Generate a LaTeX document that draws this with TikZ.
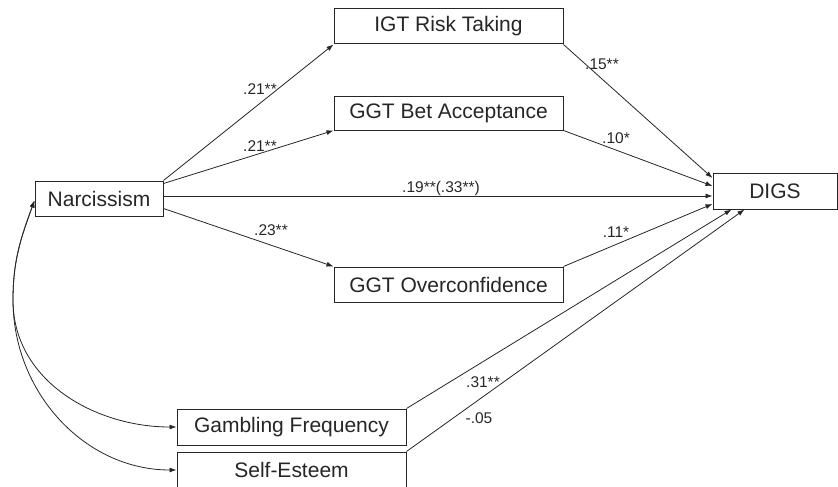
\documentclass[tikz,border=0pt]{standalone}
\usepackage{fontspec}
\setmainfont{Liberation Sans}
\usetikzlibrary{arrows.meta}
\tikzset{
  varbox/.style={draw, line width=1pt, minimum width=229pt, minimum height=35pt, inner sep=0pt, font=\fontsize{21}{25}\selectfont},
  coef/.style={anchor=base, inner sep=0pt, font=\fontsize{15.5}{18}\selectfont},
  link/.style={line width=0.8pt, -{Latex[length=7pt,width=5pt]}},
  corr/.style={line width=0.8pt, {Latex[length=7pt,width=5pt]}-{Latex[length=7pt,width=5pt]}}
}
\begin{document}
\begin{tikzpicture}[x=1pt, y=-1pt, color=black!85]
    \useasboundingbox (0,0) rectangle (838,487);

    % Variables
    \node[varbox, minimum width=128pt] (narc) at (99,198.5) {Narcissism};
    \node[varbox] (igt)  at (448.5,26.5) {IGT Risk Taking};
    \node[varbox, minimum height=34pt] (bet) at (448.5,113) {GGT Bet Acceptance};
    \node[varbox] (over) at (448.5,284.5) {GGT Overconfidence};
    \node[varbox, minimum width=124pt, minimum height=36pt] (digs) at (775,191) {DIGS};
    \node[varbox, minimum height=36pt] (gamb) at (291.5,427) {Gambling Frequency};
    \node[varbox, minimum height=36pt] (self) at (291.5,470) {Self-Esteem};

    % Paths from Narcissism
    \draw[link] (narc.north east) -- (igt.south west);
    \draw[link] ([yshift=-3pt]narc.north east) -- (bet.south west);
    \draw[link] ([yshift=2.5pt]narc.east) -- ([yshift=-5pt]digs.west);
    \draw[link] ([yshift=8pt]narc.south east) -- (over.north west);

    % Paths into DIGS
    \draw[link] (igt.south east) -- ([yshift=13pt]digs.west);
    \draw[link] (bet.south east) -- ([yshift=5pt]digs.west);
    \draw[link] (over.north east) -- ([yshift=-13pt]digs.west);
    \draw[link] (gamb.north east) -- ([xshift=19pt]digs.south west);
    \draw[link] (self.north east) -- ([xshift=32pt]digs.south west);

    % Correlations
    \coordinate (bend) at (13,300);
    \draw[corr] ([yshift=-2pt]narc.west) to[out=250,in=90] (bend) to[out=270,in=180] (gamb.west);
    \draw[corr] ([yshift=-2pt]narc.west) to[out=250,in=90] (bend) to[out=270,in=180] (self.west);

    % Coefficients
    \node[coef] (c1) at (260,95)  {.21**};
    \node[coef] (c2) at (260,151) {.21**};
    \node[coef] (c3) at (441,192) {.19**(.33**)};
    \node[coef] (c4) at (271,235) {.23**};
    \node[coef] (c5) at (602,70)  {.15**};
    \node[coef] (c6) at (616,143) {.10*};
    \node[coef] (c7) at (616,237) {.11*};
    \node[coef] (c8) at (483,387) {.31**};
    \node[coef] (c9) at (479,423) {-.05};
\end{tikzpicture}
\end{document}
